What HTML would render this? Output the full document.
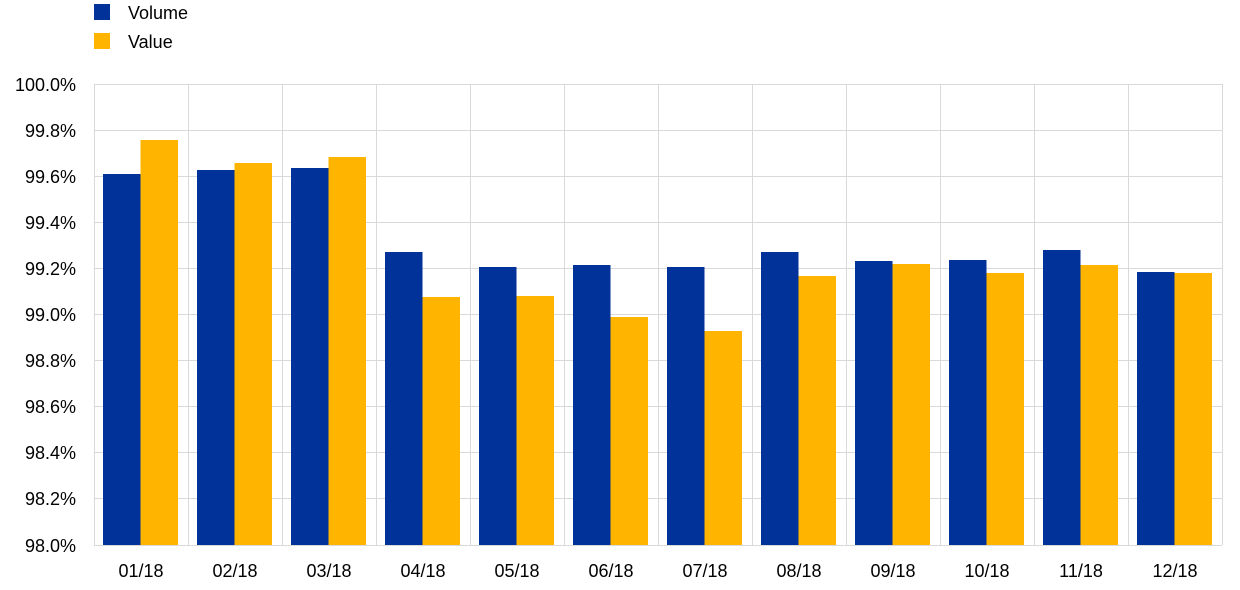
<!DOCTYPE html>
<html><head><meta charset="utf-8"><style>
body{margin:0;background:#fff;}
svg{display:block;font-family:"Liberation Sans",Arial,sans-serif;}
</style></head><body>
<svg width="1240" height="590" viewBox="0 0 1240 590" xmlns="http://www.w3.org/2000/svg">
<rect x="94" y="4" width="16" height="16" fill="#003299"/>
<text x="128" y="19" font-size="18" fill="#000">Volume</text>
<rect x="94" y="33" width="16" height="16" fill="#FFB400"/>
<text x="128" y="48" font-size="18" fill="#000">Value</text>
<g stroke="#d9d9d9" stroke-width="1">
<line x1="94" y1="84.5" x2="1222" y2="84.5"/>
<line x1="94" y1="130.5" x2="1222" y2="130.5"/>
<line x1="94" y1="176.5" x2="1222" y2="176.5"/>
<line x1="94" y1="222.5" x2="1222" y2="222.5"/>
<line x1="94" y1="268.5" x2="1222" y2="268.5"/>
<line x1="94" y1="314.5" x2="1222" y2="314.5"/>
<line x1="94" y1="360.5" x2="1222" y2="360.5"/>
<line x1="94" y1="406.5" x2="1222" y2="406.5"/>
<line x1="94" y1="452.5" x2="1222" y2="452.5"/>
<line x1="94" y1="498.5" x2="1222" y2="498.5"/>
<line x1="94" y1="545.5" x2="1222" y2="545.5"/>
<line x1="94.5" y1="84" x2="94.5" y2="545"/>
<line x1="188.5" y1="84" x2="188.5" y2="545"/>
<line x1="282.5" y1="84" x2="282.5" y2="545"/>
<line x1="376.5" y1="84" x2="376.5" y2="545"/>
<line x1="470.5" y1="84" x2="470.5" y2="545"/>
<line x1="564.5" y1="84" x2="564.5" y2="545"/>
<line x1="658.5" y1="84" x2="658.5" y2="545"/>
<line x1="752.5" y1="84" x2="752.5" y2="545"/>
<line x1="846.5" y1="84" x2="846.5" y2="545"/>
<line x1="940.5" y1="84" x2="940.5" y2="545"/>
<line x1="1034.5" y1="84" x2="1034.5" y2="545"/>
<line x1="1128.5" y1="84" x2="1128.5" y2="545"/>
<line x1="1222.5" y1="84" x2="1222.5" y2="545"/>
</g>
<g id="bars"></g>
<g font-size="18" fill="#000" text-anchor="end">
<text x="76" y="91">100.0%</text>
<text x="76" y="137">99.8%</text>
<text x="76" y="183">99.6%</text>
<text x="76" y="229">99.4%</text>
<text x="76" y="275">99.2%</text>
<text x="76" y="321">99.0%</text>
<text x="76" y="367">98.8%</text>
<text x="76" y="413">98.6%</text>
<text x="76" y="459">98.4%</text>
<text x="76" y="505">98.2%</text>
<text x="76" y="552">98.0%</text>
</g>
<g font-size="18" fill="#000" text-anchor="middle">
<text x="141" y="577">01/18</text>
<text x="235" y="577">02/18</text>
<text x="329" y="577">03/18</text>
<text x="423" y="577">04/18</text>
<text x="517" y="577">05/18</text>
<text x="611" y="577">06/18</text>
<text x="705" y="577">07/18</text>
<text x="799" y="577">08/18</text>
<text x="893" y="577">09/18</text>
<text x="987" y="577">10/18</text>
<text x="1081" y="577">11/18</text>
<text x="1175" y="577">12/18</text>
</g>
<g>
<rect x="103" y="174" width="37.5" height="371" fill="#003299"/><rect x="140.5" y="140" width="37.5" height="405" fill="#FFB400"/>
<rect x="197" y="170" width="37.5" height="375" fill="#003299"/><rect x="234.5" y="163" width="37.5" height="382" fill="#FFB400"/>
<rect x="291" y="168" width="37.5" height="377" fill="#003299"/><rect x="328.5" y="157" width="37.5" height="388" fill="#FFB400"/>
<rect x="385" y="252" width="37.5" height="293" fill="#003299"/><rect x="422.5" y="297" width="37.5" height="248" fill="#FFB400"/>
<rect x="479" y="267" width="37.5" height="278" fill="#003299"/><rect x="516.5" y="296" width="37.5" height="249" fill="#FFB400"/>
<rect x="573" y="265" width="37.5" height="280" fill="#003299"/><rect x="610.5" y="317" width="37.5" height="228" fill="#FFB400"/>
<rect x="667" y="267" width="37.5" height="278" fill="#003299"/><rect x="704.5" y="331" width="37.5" height="214" fill="#FFB400"/>
<rect x="761" y="252" width="37.5" height="293" fill="#003299"/><rect x="798.5" y="276" width="37.5" height="269" fill="#FFB400"/>
<rect x="855" y="261" width="37.5" height="284" fill="#003299"/><rect x="892.5" y="264" width="37.5" height="281" fill="#FFB400"/>
<rect x="949" y="260" width="37.5" height="285" fill="#003299"/><rect x="986.5" y="273" width="37.5" height="272" fill="#FFB400"/>
<rect x="1043" y="250" width="37.5" height="295" fill="#003299"/><rect x="1080.5" y="265" width="37.5" height="280" fill="#FFB400"/>
<rect x="1137" y="272" width="37.5" height="273" fill="#003299"/><rect x="1174.5" y="273" width="37.5" height="272" fill="#FFB400"/>
</g>
</svg>
</body></html>
